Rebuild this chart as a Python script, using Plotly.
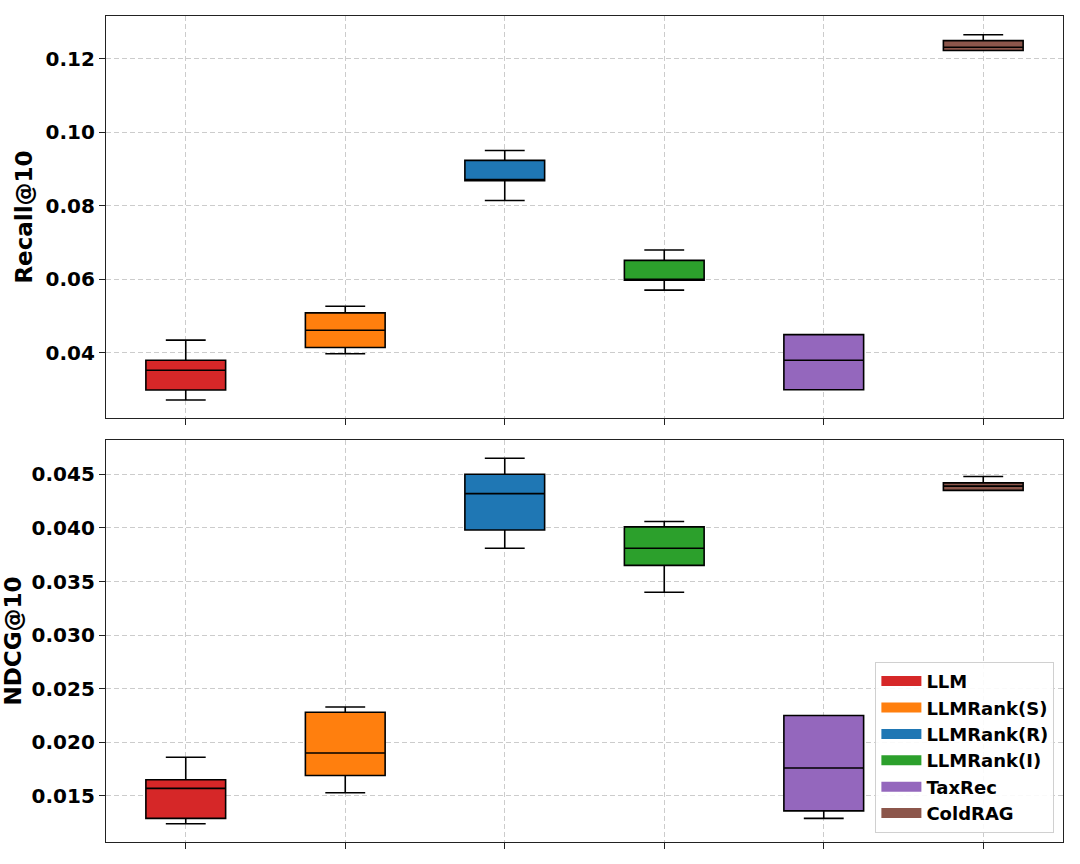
import plotly.graph_objects as go
from plotly.subplots import make_subplots

methods = ["LLM", "LLMRank(S)", "LLMRank(R)", "LLMRank(I)", "TaxRec", "ColdRAG"]
colors = ["#d62728", "#ff7f0e", "#1f77b4", "#2ca02c", "#9467bd", "#8c564b"]
positions = [1, 2, 3, 4, 5, 6]

# Recall@10 box stats
recall_low = [0.0272, 0.0398, 0.0815, 0.0571, 0.0300, 0.1223]
recall_q1 = [0.0299, 0.0415, 0.0869, 0.0598, 0.0300, 0.1223]
recall_med = [0.0353, 0.0462, 0.0869, 0.0598, 0.0380, 0.1232]
recall_q3 = [0.0380, 0.0509, 0.0924, 0.0652, 0.0450, 0.1250]
recall_high = [0.0435, 0.0527, 0.0951, 0.0680, 0.0450, 0.1266]

# NDCG@10 box stats
ndcg_low = [0.0124, 0.0153, 0.0381, 0.0340, 0.0129, 0.0435]
ndcg_q1 = [0.0129, 0.0169, 0.0398, 0.0365, 0.0136, 0.0435]
ndcg_med = [0.0157, 0.0190, 0.0432, 0.0381, 0.0176, 0.0439]
ndcg_q3 = [0.0165, 0.0228, 0.0450, 0.0401, 0.0225, 0.0442]
ndcg_high = [0.0186, 0.0233, 0.0465, 0.0406, 0.0225, 0.0448]

FONT = "DejaVu Sans"

fig = make_subplots(rows=2, cols=1, shared_xaxes=True, vertical_spacing=22 / 826)

panels = [
    (1, recall_low, recall_q1, recall_med, recall_q3, recall_high),
    (2, ndcg_low, ndcg_q1, ndcg_med, ndcg_q3, ndcg_high),
]
for row, lo, q1, med, q3, hi in panels:
    for i, m in enumerate(methods):
        fig.add_trace(go.Box(
            x=[positions[i]], q1=[q1[i]], median=[med[i]], q3=[q3[i]],
            lowerfence=[lo[i]], upperfence=[hi[i]],
            name=m, showlegend=False,
            fillcolor=colors[i], line=dict(color="black", width=1.6),
            width=0.5, whiskerwidth=0.5, boxpoints=False,
            hoverinfo="skip",
        ), row=row, col=1)

# legend entries as colour patches
for i, m in enumerate(methods):
    fig.add_trace(go.Scatter(
        x=[None], y=[None], mode="lines", name=m,
        line=dict(color=colors[i], width=12),
    ), row=2, col=1)

axis_style = dict(
    showline=True, mirror=True, linecolor="#222222", linewidth=1.3,
    ticks="outside", ticklen=6, tickcolor="#222222",
    showgrid=True, gridcolor="#cccccc", griddash="5px,3px", gridwidth=1,
    zeroline=False, automargin=False,
)

fig.update_xaxes(range=[0.5, 6.5], tickvals=positions, ticktext=[""] * 6, **axis_style)
fig.update_yaxes(tickfont=dict(family=FONT, size=20, color="black", weight="bold"), **axis_style)

fig.update_yaxes(range=[0.0223, 0.1317], dtick=0.02, tick0=0, tickformat=".2f",
                 title=dict(text="Recall@10", standoff=6,
                            font=dict(family=FONT, size=23, color="black", weight="bold")),
                 row=1, col=1)
fig.update_yaxes(range=[0.0107, 0.0482], dtick=0.005, tick0=0, tickformat=".3f",
                 title=dict(text="NDCG@10", standoff=6,
                            font=dict(family=FONT, size=23, color="black", weight="bold")),
                 row=2, col=1)

fig.update_layout(
    width=1080, height=864,
    margin=dict(l=106, r=17, t=16, b=22),
    plot_bgcolor="white", paper_bgcolor="white",
    boxmode="overlay",
    font=dict(family=FONT, color="black"),
    legend=dict(
        x=0.991, y=0.011, xanchor="right", yanchor="bottom",
        bgcolor="rgba(255,255,255,0.9)", bordercolor="#d0d0d0", borderwidth=1,
        font=dict(family=FONT, size=18, color="black", weight="bold"),
        tracegroupgap=0, itemwidth=40,
    ),
)

fig.write_html("out.html", config={"displayModeBar": False},
               post_script="document.body.style.margin='0';")
